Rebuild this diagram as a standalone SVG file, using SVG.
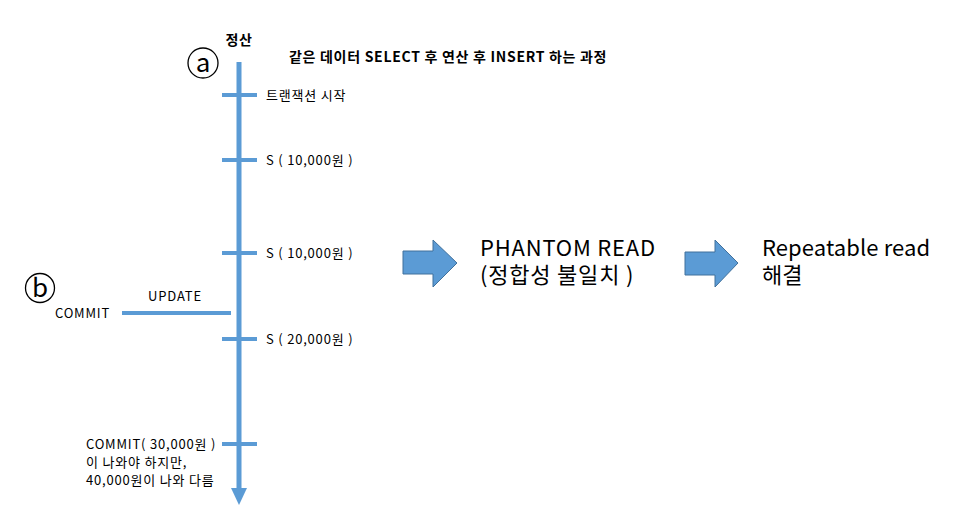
<svg xmlns="http://www.w3.org/2000/svg" width="960" height="530" viewBox="0 0 960 530">
<style>
.t{font-family:"Noto Sans CJK KR","Noto Sans",sans-serif;fill:#000}
.s{font-size:13px;letter-spacing:0.8px}
.b{font-size:14px;font-weight:bold;letter-spacing:0.7px}
.big{font-size:22px;letter-spacing:0.8px}
.ln{stroke:#5B9BD5;stroke-width:5;fill:none}
.tk{stroke:#5B9BD5;stroke-width:4;fill:none}
.ar{fill:#5B9BD5;stroke:#41719C;stroke-width:1}
.c{fill:none;stroke:#000;stroke-width:1.3}
</style>
<rect width="960" height="530" fill="#fff"/>
<g id="connectors">
<line class="ln" x1="239" y1="62" x2="239" y2="490"/>
<polygon points="231,488 247,488 239,505" fill="#5B9BD5"/>
<line class="tk" x1="222" y1="95" x2="257" y2="95"/>
<line class="tk" x1="222" y1="160" x2="257" y2="160"/>
<line class="tk" x1="222" y1="253" x2="257" y2="253"/>
<line class="tk" x1="222" y1="339" x2="257" y2="339"/>
<line class="tk" x1="222" y1="444" x2="257" y2="444"/>
<line class="tk" x1="122" y1="313" x2="231" y2="313"/>
</g>
<g id="marker-a">
<circle class="c" cx="203" cy="63" r="15"/>
<text class="t" x="203" y="72" font-size="26" text-anchor="middle">a</text>
</g>
<g id="marker-b">
<circle class="c" cx="40" cy="288" r="14.5"/>
<text class="t" x="40" y="297" font-size="26" text-anchor="middle">b</text>
</g>
<g id="title">
<text class="t b" x="239" y="45" text-anchor="middle">정산</text>
<text class="t b" x="289" y="62">같은 데이터 SELECT 후 연산 후 INSERT 하는 과정</text>
</g>
<g id="labels">
<text class="t s" x="266" y="100">트랜잭션 시작</text>
<text class="t s" x="266" y="165">S ( 10,000원 )</text>
<text class="t s" x="266" y="258">S ( 10,000원 )</text>
<text class="t s" x="266" y="344">S ( 20,000원 )</text>
<text class="t s" x="175" y="301" text-anchor="middle">UPDATE</text>
<text class="t s" x="55" y="318">COMMIT</text>
<text class="t s"><tspan x="86" y="449">COMMIT( 30,000원 )</tspan><tspan x="86" y="467">이 나와야 하지만,</tspan><tspan x="86" y="485">40,000원이 나와 다름</tspan></text>
</g>
<g id="arrow1">
<polygon class="ar" points="403,251 433,251 433,240 457,263 433,287 433,274 403,274"/>
</g>
<g id="phantom">
<text class="t big"><tspan x="480" y="256">PHANTOM READ</tspan><tspan x="480" y="283">(정합성 불일치 )</tspan></text>
</g>
<g id="arrow2">
<polygon class="ar" points="685,252 715,252 715,240 738,263 715,287 715,275 685,275"/>
</g>
<g id="repeatable">
<text class="t big" style="letter-spacing:0.1px"><tspan x="762" y="256">Repeatable read</tspan><tspan x="762" y="283">해결</tspan></text>
</g>
</svg>
